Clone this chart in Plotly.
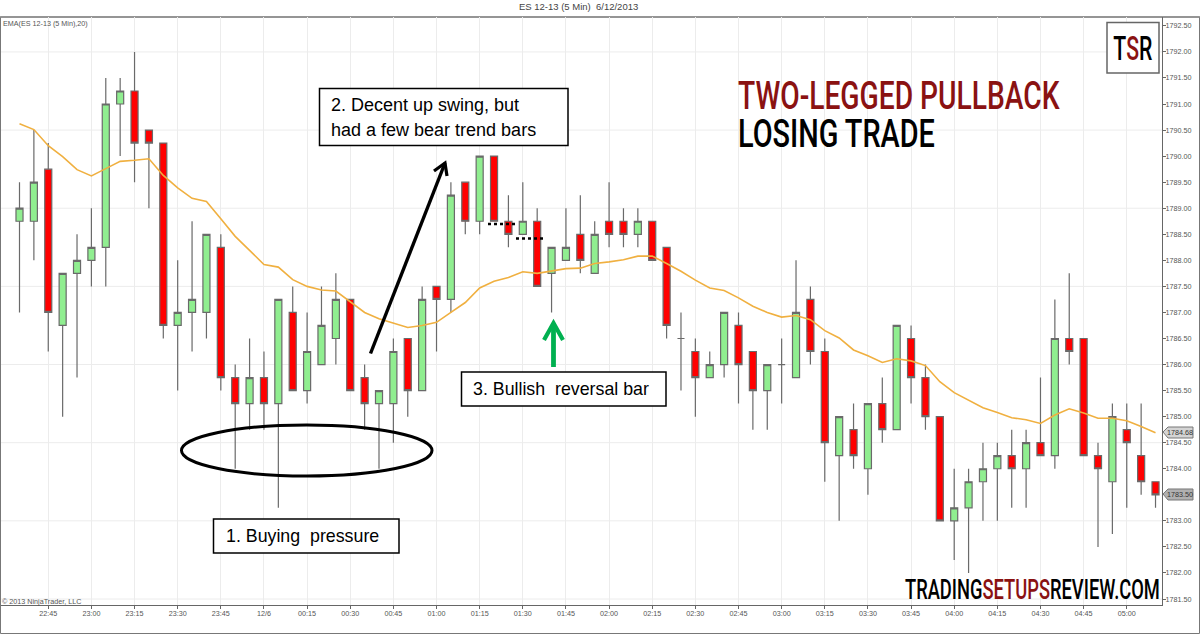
import plotly.graph_objects as go

# ---- data (22:35 bar = index 0, 5 minute bars) ----
opens = [1788.75,1788.75,1789.75,1786.75,1787.75,1788.0,1788.25,1791.0,1791.25,1790.5,1790.25,1786.75,1787.0,1787.0,1788.25,
         1785.75,1785.25,1785.75,1785.25,1787.0,1785.5,1786.0,1786.5,1787.25,1785.75,1785.25,1785.25,1786.5,1785.5,1787.5,
         1787.25,1789.5,1788.75,1790.0,1788.75,1788.5,1788.75,1787.75,1788.0,1788.5,1787.75,1788.75,1788.75,1788.5,1788.75,
         1788.25,1786.5,1786.25,1785.75,1786.0,1786.75,1786.25,1785.5,1786.0,1785.75,1787.25,1786.25,1784.25,1784.75,1784.0,
         1785.25,1784.75,1786.5,1785.75,1785.0,1783.0,1783.25,1783.75,1784.0,1784.25,1784.0,1784.5,1784.25,1786.5,1786.5,
         1784.25,1783.75,1784.75,1784.25,1783.75]
closes = [1789.0,1789.5,1787.0,1787.75,1788.0,1788.25,1791.0,1791.25,1790.25,1790.25,1786.75,1787.0,1787.25,1788.5,1785.75,
          1785.25,1785.75,1785.25,1787.25,1785.5,1786.25,1786.75,1787.25,1785.5,1785.25,1785.5,1786.25,1785.5,1787.25,1787.25,
          1789.25,1788.75,1790.0,1788.75,1788.5,1788.75,1787.5,1788.25,1788.25,1788.0,1788.5,1788.5,1788.5,1788.75,1788.0,
          1786.75,1786.5,1785.75,1786.0,1787.0,1786.0,1785.5,1786.0,1786.0,1787.0,1786.25,1784.5,1785.0,1784.25,1785.25,
          1784.75,1786.75,1785.75,1785.0,1783.0,1783.25,1783.75,1784.0,1784.25,1784.0,1784.5,1784.25,1786.5,1786.25,1784.25,
          1784.0,1785.0,1784.5,1783.75,1783.5]
highs = [1789.5,1790.5,1790.25,1787.75,1788.5,1789.0,1791.5,1791.5,1792.0,1790.5,1790.25,1788.0,1788.75,1788.5,1788.5,
         1786.0,1786.5,1786.25,1787.25,1787.5,1787.0,1787.5,1787.75,1787.25,1786.0,1785.5,1786.5,1786.5,1787.5,1787.5,
         1789.5,1789.5,1790.0,1790.0,1789.25,1789.5,1789.0,1788.25,1789.0,1789.25,1788.75,1789.5,1789.0,1789.0,1788.75,
         1788.25,1787.0,1786.5,1786.25,1787.0,1787.0,1786.25,1786.0,1786.5,1788.0,1787.5,1786.5,1785.0,1785.25,1785.25,
         1785.75,1786.75,1786.75,1786.0,1785.0,1784.0,1784.0,1784.5,1784.5,1784.75,1784.75,1785.75,1787.25,1787.75,1786.5,
         1784.5,1785.25,1785.25,1785.25,1783.75]
lows = [1787.0,1788.0,1786.25,1785.0,1785.75,1787.5,1787.5,1790.0,1789.5,1789.0,1786.5,1785.5,1786.25,1786.5,1785.5,
        1784.0,1784.75,1784.75,1783.25,1785.5,1785.25,1786.0,1786.0,1785.5,1784.75,1784.0,1784.5,1785.0,1785.5,1786.25,
        1787.0,1788.5,1788.5,1788.75,1788.25,1788.5,1787.5,1787.0,1788.0,1787.75,1787.75,1788.25,1788.25,1788.25,1788.0,
        1786.5,1785.5,1785.0,1785.75,1785.75,1785.25,1784.75,1784.75,1785.25,1785.75,1786.0,1783.75,1783.0,1784.0,1783.5,
        1784.5,1784.75,1785.25,1784.75,1783.0,1782.25,1782.0,1783.0,1783.0,1783.25,1783.25,1784.25,1784.0,1786.0,1784.25,
        1782.5,1782.75,1783.25,1783.5,1783.25]
ema = [1790.62,1790.51,1790.2,1789.99,1789.74,1789.62,1789.76,1789.9,1789.92,1789.95,1789.63,1789.39,1789.19,1789.13,1788.8,
       1788.46,1788.19,1787.92,1787.87,1787.63,1787.5,1787.43,1787.41,1787.2,1787.0,1786.88,1786.79,1786.71,1786.75,1786.81,
       1787.0,1787.19,1787.47,1787.6,1787.67,1787.78,1787.75,1787.79,1787.84,1787.85,1787.94,1787.97,1788.01,1788.08,1788.08,
       1787.94,1787.79,1787.62,1787.47,1787.42,1787.28,1787.12,1787.0,1786.91,1786.94,1786.86,1786.65,1786.51,1786.28,1786.17,
       1786.04,1786.11,1786.07,1785.98,1785.67,1785.46,1785.31,1785.17,1785.08,1784.98,1784.94,1784.87,1785.03,1785.15,1785.07,
       1784.97,1784.97,1784.92,1784.81,1784.69]
x_tick_labels = ["22:45","23:00","23:15","23:30","23:45","12/6","00:15","00:30","00:45","01:00","01:15","01:30","01:45",
                 "02:00","02:15","02:30","02:45","03:00","03:15","03:30","03:45","04:00","04:15","04:30","04:45","05:00"]
x_tick_index = list(range(2, 80, 3))
y_tick_values = [1781.5 + 0.5 * k for k in range(23)]
y_grid_values = [1781.5 + 1.5 * k for k in range(8)]
last_close_tag = 1783.5
bar_index = list(range(len(opens)))

# ---- frame geometry ----
W, H = 1200, 634
L, R, T, B = 1, 1162, 17, 605
SANS = "Liberation Sans, Arial, sans-serif"
HEAD = "Roboto, Liberation Sans, Arial, sans-serif"
DARKRED = "#8a1212"

def px(x):
    return (x - L) / (R - L)

def py(y):
    return (B - y) / (B - T)

def path(points):
    return "M" + " L".join(f"{px(a):.5f},{py(b):.5f}" for a, b in points)

fig = go.Figure()
fig.add_trace(go.Candlestick(
    x=bar_index, open=opens, high=highs, low=lows, close=closes,
    increasing=dict(fillcolor="#90ee90", line=dict(color="#6a6a6a", width=1.2)),
    decreasing=dict(fillcolor="#ff0000", line=dict(color="#6a6a6a", width=1.2)),
    whiskerwidth=0, showlegend=False, hoverinfo="skip"))
fig.add_trace(go.Scatter(x=bar_index, y=ema, mode="lines", showlegend=False, hoverinfo="skip",
                         line=dict(color="#f0b040", width=1.6)))

shapes = []
for v in y_grid_values:
    shapes.append(dict(type="line", xref="paper", yref="y", x0=0, x1=1, y0=v, y1=v, layer="below",
                       line=dict(color="#ececec", width=1)))
shapes.append(dict(type="rect", xref="paper", yref="paper", x0=px(0.5), x1=px(1199.5), y0=py(633.5), y1=py(T),
                   line=dict(color="#777777", width=1), layer="below"))
shapes.append(dict(type="line", xref="paper", yref="paper", x0=px(0), x1=px(1200), y0=1, y1=1,
                   line=dict(color="#888888", width=1.5), layer="below"))
shapes.append(dict(type="circle", xref="paper", yref="paper", x0=px(181.5), x1=px(432), y0=py(476), y1=py(425),
                   line=dict(color="black", width=3)))
shapes.append(dict(type="path", xref="paper", yref="paper", path=path([(370.5, 353.5), (445, 163)]),
                   line=dict(color="black", width=3.4)))
shapes.append(dict(type="path", xref="paper", yref="paper", path=path([(434, 171), (445, 163), (447, 176)]),
                   line=dict(color="black", width=3.2)))
shapes.append(dict(type="path", xref="paper", yref="paper", path=path([(553.5, 367), (553.5, 323)]),
                   line=dict(color="#00b050", width=4.8)))
shapes.append(dict(type="path", xref="paper", yref="paper", path=path([(544, 340), (553.5, 323), (563, 340)]),
                   line=dict(color="#00b050", width=4.2)))
for x0, x1, y in [(488, 517, 224), (516, 545, 238.5)]:
    shapes.append(dict(type="line", xref="paper", yref="paper", x0=px(x0), x1=px(x1), y0=py(y), y1=py(y),
                       line=dict(color="black", width=2.6, dash="dot")))
for x0, x1, y0, y1 in [(213.5, 399, 519, 553), (319.5, 568, 88.5, 145.5), (461.5, 666, 372, 406)]:
    shapes.append(dict(type="rect", xref="paper", yref="paper", x0=px(x0), x1=px(x1), y0=py(y1), y1=py(y0),
                       fillcolor="white", line=dict(color="black", width=1.5)))
shapes.append(dict(type="rect", xref="paper", yref="paper", x0=px(1107), x1=px(1159), y0=py(73), y1=py(22.5),
                   fillcolor="white", line=dict(color="#666666", width=1.5)))
for pts, col in [([(1163, 432), (1168, 427), (1193, 427), (1193, 438), (1168, 438)], "#d4d4d4"),
                 ([(1163, 494), (1168, 489), (1193, 489), (1193, 500), (1168, 500)], "#b0b0b0")]:
    shapes.append(dict(type="path", xref="paper", yref="paper", path=path(pts) + " Z",
                       fillcolor=col, line=dict(color="#777777", width=1)))

def note(x, y, text, size, color="black", anchor="left", family=SANS, weight="normal"):
    return dict(xref="paper", yref="paper", x=px(x), y=py(y), text=text, showarrow=False,
                xanchor=anchor, yanchor="middle", align="left", borderpad=0,
                font=dict(size=size, color=color, family=family, weight=weight))

annotations = [
    note(2, 24, "EMA(ES 12-13 (5 Min),20)", 7.2, "#555555"),
    note(1, 601, "© 2013 NinjaTrader, LLC", 7.2, "#555555"),
    note(225, 536, "1. Buying\u00a0 pressure", 17.8),
    note(330, 105, "2. Decent up swing, but", 18),
    note(330, 130, "had a few bear trend bars", 18),
    note(472, 389, "3. Bullish\u00a0 reversal bar", 17.8),
    note(737, 96, "TWO-LEGGED PULLBACK", 39, DARKRED, family=HEAD, weight=500),
    note(737, 134, "LOSING TRADE", 39, "black", family=HEAD, weight=500),
    note(904, 590, f"TRADING<span style='color:{DARKRED}'>SETUPS</span>REVIEW.COM", 27, "black", family=HEAD, weight=500),
    note(1133, 48, f"T<span style='color:{DARKRED}'>S</span>R", 33.5, "black", "center", family=HEAD, weight=500),
    note(1180, 432.5, "1784.68", 7.2, "#333333", "center"),
    note(1180, 494.5, "1783.50", 7.2, "#333333", "center"),
]

fig.update_layout(
    width=W, height=H, autosize=False,
    margin=dict(l=L, r=W - R, t=T, b=H - B),
    paper_bgcolor="white", plot_bgcolor="white",
    boxgap=0.3, showlegend=False,
    title=dict(text="ES 12-13 (5 Min)  6/12/2013", x=597 / W, xanchor="center", xref="paper",
               y=1 - 7 / H, yanchor="middle", font=dict(size=9.5, color="#444444", family=SANS)),
    xaxis=dict(range=[(L - 19.5) / 14.38, (R - 19.5) / 14.38], rangeslider=dict(visible=False),
               tickmode="array", tickvals=x_tick_index, ticktext=x_tick_labels,
               showgrid=True, gridcolor="#ececec", gridwidth=1, zeroline=False,
               showline=True, linecolor="#666666", linewidth=1, ticks="outside", ticklen=3,
               ticklabelstandoff=-2,
               tickcolor="#666666", tickfont=dict(size=7.2, color="#555555", family=SANS)),
    yaxis=dict(side="right", range=[1781.385, 1792.67], tickmode="array", tickvals=y_tick_values,
               ticktext=["" if v == last_close_tag else f"{v:.2f}" for v in y_tick_values],
               showgrid=False, zeroline=False,
               showline=True, linecolor="#666666", linewidth=1, ticks="outside", ticklen=3,
               ticklabelstandoff=-2,
               tickcolor="#666666", tickfont=dict(size=7.2, color="#555555", family=SANS)),
    shapes=shapes, annotations=annotations,
)

# The reference's headline face is a condensed one; none is installed, so the real text
# is squeezed horizontally to the measured width of each headline.
post = """
document.body.style.margin='0';
(function(){
  var widths=[['TWO-LEGGED',322,0],['LOSING',197,0],['TRADING',255,0],['TSR',39,1]];
  document.querySelectorAll('.annotation-text').forEach(function(t){
    var s=t.textContent;
    widths.forEach(function(w){
      if(s.indexOf(w[0])===0){
        var b=t.getBBox();
        var cx=w[2]?b.x+b.width/2:b.x;
        var k=w[1]/b.width;
        t.setAttribute('transform','translate('+cx+',0) scale('+k+',1) translate('+(-cx)+',0)');
      }
    });
  });
})();
"""
fig.write_html("out.html", config={"displayModeBar": False}, post_script=post)
